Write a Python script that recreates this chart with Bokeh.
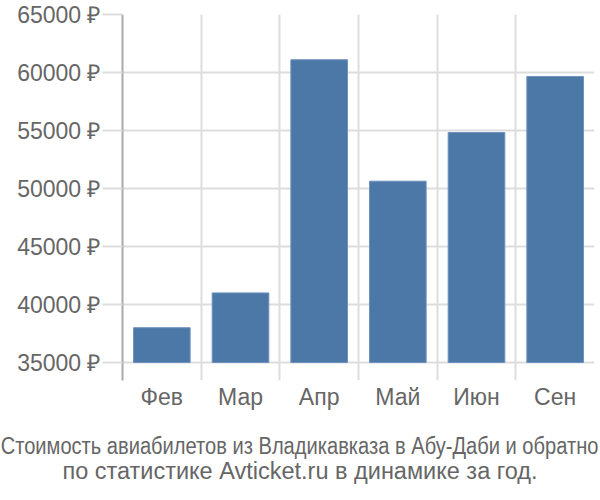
from bokeh.plotting import figure
from bokeh.models import Range1d, FixedTicker, Div
from bokeh.layouts import column
from bokeh.embed import file_html
from bokeh.resources import INLINE

months = ["Фев", "Мар", "Апр", "Май", "Июн", "Сен"]
prices = [38000, 41000, 61100, 50630, 54830, 59660]
y_ticks = [35000, 40000, 45000, 50000, 55000, 60000, 65000]
title_lines = ["Стоимость авиабилетов из Владикавказа в Абу-Даби и обратно",
               "по статистике Avticket.ru в динамике за год."]

FONT = "Liberation Sans"
TEXT = "#666666"
GRID = "#dddddd"

xs = [i + 0.5 for i in range(len(months))]

p = figure(frame_width=472, frame_height=366, output_backend="svg",
           toolbar_location=None, x_range=Range1d(0, len(months)),
           y_range=Range1d(33450, 65000))
p.min_border_left = 122
p.min_border_right = 6
p.min_border_top = 14
p.min_border_bottom = 40
p.outline_line_color = None
p.background_fill_color = "white"

p.vbar(x=xs, top=prices, bottom=35000, width=0.72,
       fill_color="#4c78a8", line_color="#6f92bd", line_width=1)

# y axis
ya = p.yaxis[0]
ya.ticker = FixedTicker(ticks=y_ticks)
ya.major_label_overrides = {t: f"{t} ₽" for t in y_ticks}
ya.major_tick_out = 20
ya.major_tick_in = 0
ya.major_tick_line_color = GRID
ya.major_tick_line_width = 2
ya.minor_tick_line_color = None
ya.axis_line_color = "#aaaaaa"
ya.axis_line_width = 2
ya.major_label_standoff = 2
ya.major_label_text_font = FONT
ya.major_label_text_font_size = "23px"
ya.major_label_text_color = TEXT

# x axis
xa = p.xaxis[0]
xa.ticker = FixedTicker(ticks=xs)
xa.major_label_overrides = {x: m for x, m in zip(xs, months)}
xa.axis_line_color = None
xa.major_tick_line_color = None
xa.minor_tick_line_color = None
xa.major_label_standoff = -3
xa.major_label_text_font = FONT
xa.major_label_text_font_size = "23px"
xa.major_label_text_color = TEXT

# grids
p.ygrid.ticker = FixedTicker(ticks=y_ticks)
p.ygrid.grid_line_color = GRID
p.ygrid.grid_line_width = 2
p.xgrid.ticker = FixedTicker(ticks=list(range(len(months) + 1)))
p.xgrid.grid_line_color = GRID
p.xgrid.grid_line_width = 2

# caption: first line squeezed horizontally to fit the 600px width
row_style = ("width:600px;height:25px;display:flex;justify-content:center;"
             "white-space:nowrap;overflow:visible;")
html = (
    f'<div style="width:600px;padding-top:14px;font-family:\'{FONT}\';'
    f'font-size:23.5px;line-height:25px;color:{TEXT};">'
    f'<div style="{row_style}"><span style="display:inline-block;flex:none;'
    f'transform:scaleX(0.855);transform-origin:center;">{title_lines[0]}</span></div>'
    f'<div style="{row_style}"><span style="display:inline-block;flex:none;">'
    f'{title_lines[1]}</span></div>'
    f'</div>'
)
caption = Div(text=html, width=600, height=80, margin=(0, 0, 0, 0))

layout = column(p, caption, spacing=0)

open("out.html", "w").write(file_html(layout, INLINE))
